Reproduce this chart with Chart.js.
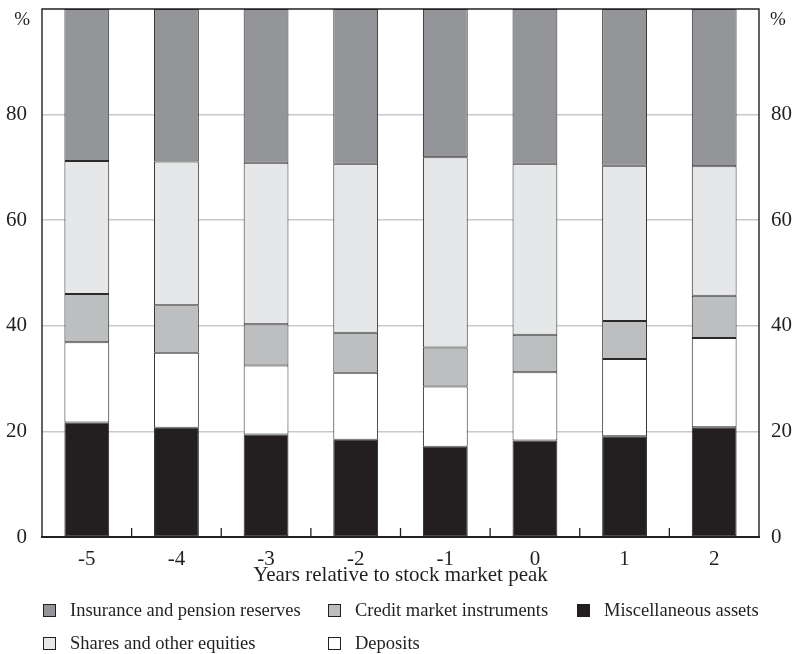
<!DOCTYPE html>
<html>
<head>
<meta charset="utf-8">
<script src="https://cdn.jsdelivr.net/npm/chart.js@4/dist/chart.umd.min.js"></script>
<style>
  html, body { margin: 0; padding: 0; background: #fff; }
  #wrap { position: relative; width: 793px; height: 654px; }
  #legend { position: absolute; left: 0; top: 0; width: 793px; height: 654px; pointer-events: none;
            font-family: "Liberation Serif", "Times New Roman", serif; font-size: 18.5px; color: #231f20; }
  .item { position: absolute; display: flex; align-items: center; white-space: nowrap; }
  .box { width: 13px; height: 13px; border: 1px solid #231f20; box-sizing: border-box; margin-right: 14px; }
</style>
</head>
<body>
<div id="wrap">
  <canvas id="c"></canvas>
  <div id="legend"></div>
</div>
<script>
// ---- data ----
const categories = ["-5", "-4", "-3", "-2", "-1", "0", "1", "2"];
const miscellaneousAssets   = [21.7, 20.7, 19.4, 18.4, 17.1, 18.3, 19.1, 20.8];
const deposits              = [15.2, 14.2, 13.1, 12.7, 11.4, 12.9, 14.6, 16.9];
const creditMarketInstr     = [9.1, 9.0, 7.8, 7.6, 7.4, 7.1, 7.2, 8.0];
const sharesOtherEquities   = [25.2, 27.2, 30.6, 32.0, 36.0, 32.4, 29.4, 24.5];
const insurancePension      = [28.8, 28.9, 29.1, 29.3, 28.1, 29.3, 29.7, 29.8];
const yTickValues = [0, 20, 40, 60, 80];
const xAxisTitle = "Years relative to stock market peak";
const unitLabel = "%";

const seriesNames = {
  insurance: "Insurance and pension reserves",
  shares: "Shares and other equities",
  credit: "Credit market instruments",
  deposits: "Deposits",
  misc: "Miscellaneous assets"
};
const colors = {
  insurance: "#939598",
  shares: "#e6e7e8",
  credit: "#bcbec0",
  deposits: "#ffffff",
  misc: "#231f20"
};

const ink = "#231f20";
const fontFamily = '"Liberation Serif", "Times New Roman", serif';

function ds(label, data, color) {
  return { label, data, backgroundColor: color, borderColor: "#2a2a2a", borderWidth: 1,
           borderSkipped: false, barPercentage: 0.5, categoryPercentage: 1.0, stack: "s" };
}

const framePlugin = {
  id: "frame",
  afterDatasetsDraw(chart) {
    const { ctx, chartArea: a, scales } = chart;
    ctx.save();
    ctx.strokeStyle = ink;
    ctx.lineWidth = 1.4;
    ctx.beginPath();
    ctx.moveTo(a.left, a.bottom); ctx.lineTo(a.left, a.top); ctx.lineTo(a.right, a.top); ctx.lineTo(a.right, a.bottom);
    ctx.stroke();
    ctx.lineWidth = 2;
    ctx.beginPath(); ctx.moveTo(a.left - 1, a.bottom); ctx.lineTo(a.right + 1, a.bottom); ctx.stroke();
    // inner tick marks at category boundaries
    const x = scales.x;
    ctx.lineWidth = 1.3;
    for (let i = 1; i < categories.length; i++) {
      const px = (x.getPixelForValue(i - 1) + x.getPixelForValue(i)) / 2;
      ctx.beginPath(); ctx.moveTo(px, a.bottom); ctx.lineTo(px, a.bottom - 9); ctx.stroke();
    }
    // unit labels
    ctx.fillStyle = ink;
    ctx.font = "19px " + fontFamily;
    ctx.textBaseline = "middle";
    ctx.textAlign = "right";
    ctx.fillText(unitLabel, a.left - 12, a.top + 11);
    ctx.textAlign = "left";
    ctx.fillText(unitLabel, a.right + 11, a.top + 11);
    ctx.restore();
  }
};

const tickFont = { family: fontFamily, size: 21, lineHeight: 1 };

new Chart(document.getElementById("c"), {
  type: "bar",
  data: {
    labels: categories,
    datasets: [
      ds(seriesNames.misc, miscellaneousAssets, colors.misc),
      ds(seriesNames.deposits, deposits, colors.deposits),
      ds(seriesNames.credit, creditMarketInstr, colors.credit),
      ds(seriesNames.shares, sharesOtherEquities, colors.shares),
      ds(seriesNames.insurance, insurancePension, colors.insurance)
    ]
  },
  options: {
    responsive: true,
    maintainAspectRatio: false,
    animation: false,
    layout: { padding: { top: 9, bottom: 57, left: 0, right: 0 } },
    plugins: { legend: { display: false }, tooltip: { enabled: false } },
    scales: {
      x: {
        stacked: true,
        offset: true,
        grid: { display: false },
        border: { display: false },
        ticks: { color: ink, font: tickFont, padding: 4, maxRotation: 0 },
        title: { display: true, text: xAxisTitle, color: ink,
                 font: { family: fontFamily, size: 21, lineHeight: 1 }, padding: { top: 0, bottom: 11 } },
        afterFit(s) { s.height = 60; s.paddingLeft = 0; s.paddingRight = 0; }
      },
      y: {
        stacked: true,
        position: "left",
        min: 0, max: 100,
        afterBuildTicks(s) { s.ticks = yTickValues.map(v => ({ value: v })); },
        grid: { color: "#c9c9cb", lineWidth: 1.5, drawTicks: false },
        border: { display: false },
        ticks: { color: ink, font: tickFont, padding: 15 },
        afterFit(s) { s.width = 42; s.paddingTop = 0; s.paddingBottom = 0; }
      },
      y2: {
        position: "right",
        min: 0, max: 100,
        afterBuildTicks(s) { s.ticks = yTickValues.map(v => ({ value: v })); },
        grid: { display: false, drawTicks: false },
        border: { display: false },
        ticks: { color: ink, font: tickFont, padding: 12 },
        afterFit(s) { s.width = 34; s.paddingTop = 0; s.paddingBottom = 0; }
      }
    }
  },
  plugins: [framePlugin]
});

// HTML legend (3 columns x 2 rows, as in the reference)
const legendLayout = [
  { key: "insurance", col: 0, row: 0 },
  { key: "credit", col: 1, row: 0 },
  { key: "misc", col: 2, row: 0 },
  { key: "shares", col: 0, row: 1 },
  { key: "deposits", col: 1, row: 1 }
];
const colX = [43, 328, 577];
const rowY = [610, 643];
const legendEl = document.getElementById("legend");
legendLayout.forEach(it => {
  const d = document.createElement("div");
  d.className = "item";
  d.style.left = colX[it.col] + "px";
  d.style.top = (rowY[it.row] - 12) + "px";
  d.style.height = "24px";
  const b = document.createElement("span");
  b.className = "box";
  b.style.background = colors[it.key];
  const t = document.createElement("span");
  t.textContent = seriesNames[it.key];
  d.appendChild(b); d.appendChild(t);
  legendEl.appendChild(d);
});
</script>
</body>
</html>
